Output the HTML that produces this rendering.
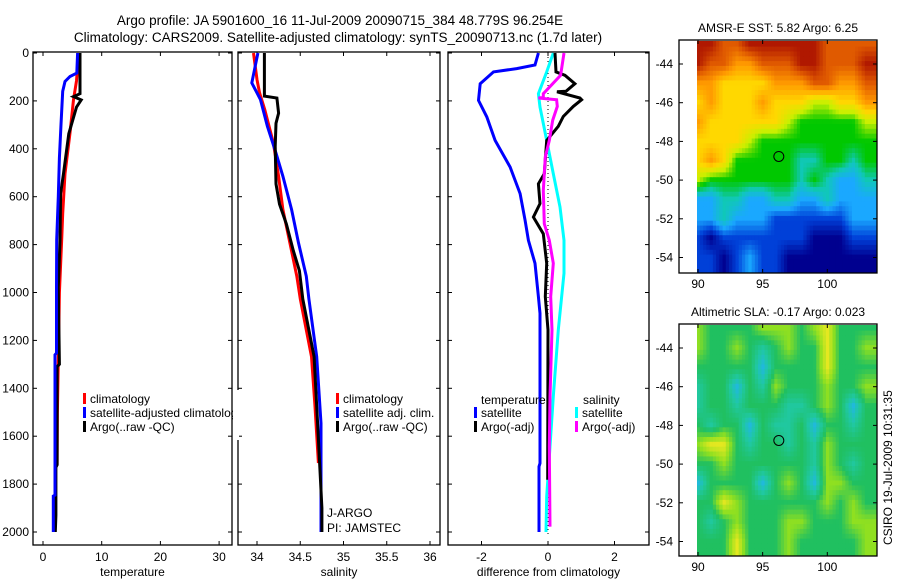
<!DOCTYPE html>
<html><head><meta charset="utf-8"><style>
body{margin:0;background:#fff;}
svg{display:block;font-family:"Liberation Sans",sans-serif;}
text{font-size:12px;fill:#000;}
</style></head><body>
<svg id="c" width="900" height="580" viewBox="0 0 900 580">
<defs>
<clipPath id="m1c"><rect x="697" y="41" width="180" height="232"/></clipPath>
<clipPath id="m2c"><rect x="697" y="325" width="180" height="231"/></clipPath>
</defs>
<text x="340" y="25" text-anchor="middle" style="font-size:13.5px">Argo profile: JA 5901600_16 11-Jul-2009 20090715_384 48.779S 96.254E</text>
<text x="338" y="42" text-anchor="middle" style="font-size:13.5px">Climatology: CARS2009. Satellite-adjusted climatology: synTS_20090713.nc (1.7d later)</text>
<g id="g"></g>
<text transform="translate(892,545) rotate(-90)" style="font-size:12px">CSIRO 19-Jul-2009 10:31:35</text>
</svg>
<script>
// ---- depth profile data ----
const tClimD=[0,116,195,334,504,671,768,1000,1500,1720];
const tClimV=[6.1,5.7,5.2,4.6,3.75,3.35,3.2,2.8,2.45,2.4];
const tSatD=[0,84,98,119,160,299,438,600,780,978,1253,1260,1846,1850,2000];
const tSatV=[5.9,5.75,4.6,3.75,3.35,3.07,2.8,2.6,2.33,2.3,2.3,2.05,2.05,1.76,1.76];
const tArgoD=[0,170,182,196,226,337,504,587,783,978,1300,1310,1720,1730,1930,2000];
const tArgoV=[6.3,6.3,5.2,6.5,5.7,4.4,3.5,3.0,2.9,2.6,2.8,2.4,2.4,2.2,2.2,2.1];
const sClimD=[0,111,167,237,376,515,654,793,932,1027,1268,1476,1712];
const sClimV=[33.96,34.0,34.03,34.09,34.19,34.25,34.30,34.38,34.46,34.5,34.63,34.67,34.71];
const sSatD=[0,125,195,306,418,515,654,793,932,1027,1268,1546,2000];
const sSatV=[34.01,33.94,34.04,34.12,34.22,34.30,34.40,34.48,34.57,34.6,34.69,34.74,34.74];
const sArgoD=[0,180,188,251,293,390,547,631,714,825,909,1027,1268,1546,1900,2000];
const sArgoV=[34.085,34.085,34.23,34.25,34.22,34.21,34.22,34.26,34.34,34.42,34.49,34.53,34.66,34.70,34.75,34.75];
const dTSatD=[0,50,65,79,128,198,267,365,476,587,699,782,878,1017,1087,1713,1727,2000];
const dTSatV=[-0.29,-0.39,-0.94,-1.64,-2.04,-2.09,-1.84,-1.59,-1.14,-0.84,-0.69,-0.59,-0.39,-0.29,-0.24,-0.24,-0.27,-0.27];
const dSSatD=[0,79,170,226,365,504,643,782,920,1156,1434,1643,1852,2000];
const dSSatV=[0.16,-0.04,-0.29,-0.24,-0.04,0.16,0.36,0.48,0.48,0.31,0.16,0.06,-0.04,-0.06];
const dTArgoD=[0,79,93,128,160,162,188,195,223,265,306,365,504,546,629,685,755,878,1017,1156,1782];
const dTArgoV=[0.21,0.24,0.51,0.81,0.54,0.27,0.96,1.01,0.76,0.46,0.31,-0.04,-0.11,-0.29,-0.24,-0.44,-0.14,-0.04,-0.08,0,-0.01];
const dSArgoD=[0,93,170,186,188,195,223,281,365,434,574,713,782,878,1017,1156,1434,1643,1978];
const dSArgoV=[0.48,0.38,-0.14,-0.14,-0.29,0.26,0.28,0.14,0.04,-0.08,-0.14,-0.11,0.04,0.16,0.08,0.12,0.06,0.04,0.06];
const depthTicks=[0,200,400,600,800,1000,1200,1400,1600,1800,2000];
const tTicks=[0,10,20,30];
const sTicks=[34,34.5,35,35.5,36];
const dTicks=[-2,0,2];
// ---- map data (color index rows, lat -43..-54, lon 90..103) ----
const mapLons=[90,91,92,93,94,95,96,97,98,99,100,101,102,103];
const mapLats=[-43,-44,-45,-46,-47,-48,-49,-50,-51,-52,-53,-54];
const sstGrid=[
[9,9,8,8,9,9,9,9,9,9,8,8,8,8],
[9,8,8,7,7,8,8,8,9,9,8,8,8,9],
[7,7,6,6,6,6,7,7,7,8,8,7,7,8],
[6,7,6,6,6,7,6,6,6,5,5,6,6,7],
[7,6,6,6,6,6,6,5,4,4,4,4,4,5],
[6,6,6,6,5,4,4,4,4,4,4,4,4,4],
[6,7,6,4,4,4,4,4,3,3,4,4,3,4],
[5,4,4,4,4,4,4,4,3,4,3,2,2,3],
[2,2,3,3,2,2,3,3,2,2,3,2,2,2],
[2,2,3,2,2,2,1,1,1,1,1,1,2,2],
[1,0,1,1,1,1,1,1,1,0,0,0,1,1],
[1,1,0,1,2,1,1,0,0,0,0,0,0,0]];
const slaGrid=[
[5,4,4,4,4,5,5,5,4,5,6,4,4,4],
[5,4,4,5,4,3,4,5,4,4,6,4,4,5],
[4,4,4,4,4,2,4,4,4,4,6,4,4,4],
[3,4,4,2,4,3,5,4,4,4,5,4,4,5],
[3,4,4,3,4,4,4,3,3,4,5,4,2,4],
[4,3,4,4,2,4,3,3,4,2,4,4,3,4],
[5,6,6,4,3,4,4,3,4,3,5,4,4,4],
[4,4,5,4,4,4,4,4,4,3,5,4,3,4],
[2,4,4,4,4,2,4,5,4,2,5,5,4,4],
[4,4,6,5,4,4,4,4,4,4,5,4,5,4],
[4,3,4,5,4,4,4,5,5,4,4,4,5,5],
[4,4,4,6,4,4,4,5,4,4,4,4,4,5]];
const mapYTicks=[-44,-46,-48,-50,-52,-54];
const mapXTicks=[90,95,100];
const argoLon=96.25, argoLat=-48.78;

const NS='http://www.w3.org/2000/svg';
const G=document.getElementById('g');
function el(tag,attrs,parent){const e=document.createElementNS(NS,tag);for(const k in attrs)e.setAttribute(k,attrs[k]);(parent||G).appendChild(e);return e;}
const yD=d=>53+d*0.2395;
function panel(name,x0,x1,xf,ticks,fmt,label,showY){
  const b=el('rect',{x:x0,y:52,width:x1-x0,height:493,fill:'none',stroke:'#000','stroke-width':1.3});
  
  
  depthTicks.forEach(d=>{const y=yD(d);
    el('line',{x1:x0,x2:x0+4,y1:y,y2:y,stroke:'#000'});el('line',{x1:x1,x2:x1-4,y1:y,y2:y,stroke:'#000'});
    if(showY){const t=el('text',{x:x0-4,y:y+4,'text-anchor':'end'});t.textContent=d;
      
      }
  });
  ticks.forEach(v=>{const x=xf(v);
    el('line',{x1:x,x2:x,y1:52,y2:56,stroke:'#000'});el('line',{x1:x,x2:x,y1:545,y2:541,stroke:'#000'});
    const t=el('text',{x:x,y:561,'text-anchor':'middle'});t.textContent=fmt(v);
    
    });
  const l=el('text',{x:(x0+x1)/2,y:576,'text-anchor':'middle'});l.textContent=label;
  
  
}
function line(name,D,V,xf,color){
  const p=el('polyline',{points:D.map((d,i)=>xf(V[i]).toFixed(1)+','+yD(d).toFixed(1)).join(' '),fill:'none',stroke:color,'stroke-width':3,'stroke-linejoin':'miter'});
  
  
}
function txt(name,x,y,s,size){const t=el('text',{x:x,y:y});if(size)t.style.fontSize=size+'px';t.textContent=s;
  
  return t;}
function leg(name,x,y,color,s){el('rect',{x:x,y:y-10,width:3,height:11,fill:color});txt(name,x+7,y,s);}

const xT=v=>43+v*5.87, xS=v=>257+(v-34)*86.5, xDf=v=>548+v*33.25;
panel('temperature-panel',33,232,xT,tTicks,v=>v,'temperature',true);
panel('salinity-panel',238,440,xS,sTicks,v=>v,'salinity',false);
panel('difference-panel',448,649,xDf,dTicks,v=>v,'difference from climatology',false);
el('line',{x1:548,x2:548,y1:53,y2:535,stroke:'#000','stroke-dasharray':'1,3'});
line('temp-climatology-line',tClimD,tClimV,xT,'#f00');
line('temp-argo-line',tArgoD,tArgoV,xT,'#000');
line('temp-satellite-line',tSatD,tSatV,xT,'#00f');
line('sal-climatology-line',sClimD,sClimV,xS,'#f00');
line('sal-satellite-line',sSatD,sSatV,xS,'#00f');
line('sal-argo-line',sArgoD,sArgoV,xS,'#000');
line('diff-temp-satellite-line',dTSatD,dTSatV,xDf,'#00f');
line('diff-sal-satellite-line',dSSatD,dSSatV,xDf,'#0ff');
line('diff-temp-argo-line',dTArgoD,dTArgoV,xDf,'#000');
line('diff-sal-argo-line',dSArgoD,dSArgoV,xDf,'#f0f');
leg('legend-climatology',83,403,'#f00','climatology');
leg('legend-satellite-adjusted',83,417,'#00f','satellite-adjusted climatolog');
leg('legend-argo',83,431,'#000','Argo(..raw -QC)');
el('rect',{x:233,y:390,width:6,height:50,fill:'#fff'});
leg('legend-climatology-2',336,403,'#f00','climatology');
leg('legend-satellite-2',336,417,'#00f','satellite adj. clim.');
leg('legend-argo-2',336,431,'#000','Argo(..raw -QC)');
txt('j-argo-label',327,517,'J-ARGO');
txt('pi-label',327,532,'PI: JAMSTEC');
txt('legend-temperature-header',481,404,'temperature');
leg('legend-temp-satellite',474,417,'#00f','satellite');
leg('legend-temp-argo',474,431,'#000','Argo(-adj)');
txt('legend-salinity-header',583,404,'salinity');
leg('legend-sal-satellite',575,417,'#0ff','satellite');
leg('legend-sal-argo',575,431,'#f0f','Argo(-adj)');

// maps
const sstCols=[[0,0,143],[0,64,216],[26,168,255],[16,200,184],[0,200,0],[200,240,0],[255,216,0],[255,154,0],[224,90,0],[176,24,0]];
const slaCols=[[0,0,160],[16,96,224],[32,184,224],[32,200,160],[32,192,96],[144,224,32],[232,232,32]];
function sample(grid,lon,lat){
  const nr=grid.length,nc=grid[0].length;
  let fc=Math.min(Math.max(lon-mapLons[0],0),nc-1), fr=Math.min(Math.max(mapLats[0]-lat,0),nr-1);
  const c0=Math.floor(fc),r0=Math.floor(fr),c1=Math.min(c0+1,nc-1),r1=Math.min(r0+1,nr-1);
  const tx=fc-c0,ty=fr-r0;
  return (grid[r0][c0]*(1-tx)+grid[r0][c1]*tx)*(1-ty)+(grid[r1][c0]*(1-tx)+grid[r1][c1]*tx)*ty;
}
function colorAt(cols,v){
  const i=Math.min(Math.floor(v),cols.length-2),t=v-i;
  const a=cols[i],b=cols[i+1];
  return 'rgb('+a.map((x,k)=>Math.round(x+(b[k]-x)*t)).join(',')+')';
}
function map(name,top,bottom,grid,cols,clip,title,titleY){
  const lx=v=>698+(v-90)*12.93;
  const ly=v=>top+24+(-44-v)*19.35;
  const g=el('g',{'clip-path':'url(#'+clip+')'});
  
  
  const step=0.25;
  for(let lon=89.9;lon<104.2;lon+=step){
    for(let lat=-42.6;lat>-55;lat-=step){
      const v=sample(grid,lon+step/2,lat-step/2);
      const cell=el('rect',{x:lx(lon).toFixed(1),y:ly(lat).toFixed(1),width:(step*12.93+0.6).toFixed(2),height:(step*19.35+0.6).toFixed(2),fill:colorAt(cols,v)},g);
      
      
    }
  }
  const f=el('rect',{x:679,y:top,width:198,height:bottom-top,fill:'none',stroke:'#000','stroke-width':1.3});
  
  
  mapYTicks.forEach(v=>{const y=ly(v);
    el('line',{x1:679,x2:683,y1:y,y2:y,stroke:'#000'});el('line',{x1:877,x2:873,y1:y,y2:y,stroke:'#000'});
    const t=el('text',{x:673,y:y+4,'text-anchor':'end'});t.textContent=v;
    
    });
  mapXTicks.forEach(v=>{const x=lx(v);
    el('line',{x1:x,x2:x,y1:top,y2:top+4,stroke:'#000'});el('line',{x1:x,x2:x,y1:bottom,y2:bottom-4,stroke:'#000'});
    const t=el('text',{x:x,y:bottom+15,'text-anchor':'middle'});t.textContent=v;
    
    });
  const c=el('circle',{cx:lx(argoLon),cy:ly(argoLat),r:5,fill:'none',stroke:'#000','stroke-width':1});
  
  
  const t=el('text',{x:778,y:titleY,'text-anchor':'middle'});t.textContent=title;
  
  
}
map('sst-map',40,273,sstGrid,sstCols,'m1c','AMSR-E SST: 5.82 Argo: 6.25',32);
map('sla-map',324,556,slaGrid,slaCols,'m2c','Altimetric SLA: -0.17 Argo: 0.023',316);
</script>
</body></html>
